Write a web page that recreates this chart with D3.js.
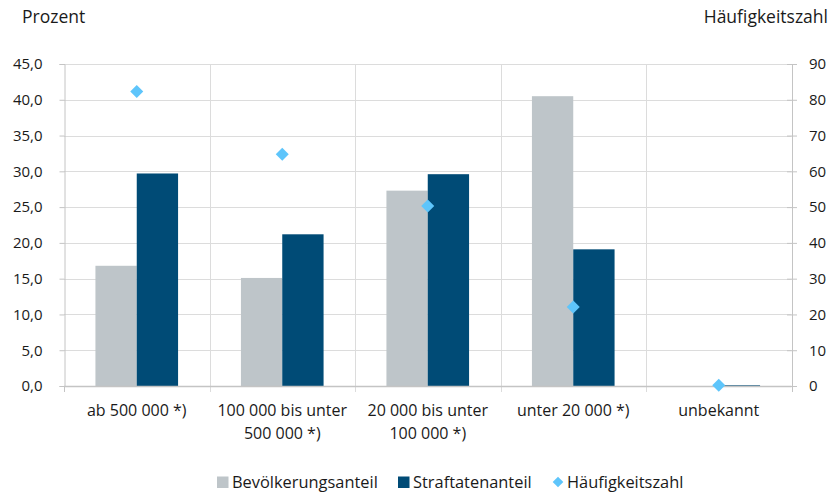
<!DOCTYPE html>
<html>
<head>
<meta charset="utf-8">
<script src="https://cdn.jsdelivr.net/npm/d3@7"></script>
<style>
  html, body { margin: 0; padding: 0; background: #fff; }
  svg { display: block; font-family: "Open Sans", sans-serif; }
  text { fill: #1a1a1a; }
</style>
</head>
<body>
<svg id="chart" width="831" height="493"></svg>
<script>
// Gemeindegrößenklassen
const categories = [
  ["ab 500 000 *)"],
  ["100 000 bis unter", "500 000 *)"],
  ["20 000 bis unter", "100 000 *)"],
  ["unter 20 000 *)"],
  ["unbekannt"]
];
const bevoelkerungsanteil = [16.8, 15.1, 27.3, 40.5, 0.0];
const straftatenanteil    = [29.7, 21.2, 29.6, 19.1, 0.1];
const haeufigkeitszahl    = [82.3, 64.8, 50.3, 22.1, 0.2];
const leftTicks  = [0, 5, 10, 15, 20, 25, 30, 35, 40, 45];
const rightTicks = [0, 10, 20, 30, 40, 50, 60, 70, 80, 90];
const seriesNames = ["Bevölkerungsanteil", "Straftatenanteil", "Häufigkeitszahl"];

const colGrey = "#bec5c9", colDark = "#004b76", colLight = "#5ec5fb";
const gridCol = "#dcdcdc", axisCol = "#c4c4c4";

const svg = d3.select("#chart");
const m = { left: 64, right: 831 - 791.5, top: 64, bottom: 493 - 386 };
const W = 831 - m.left - m.right, H = 493 - m.top - m.bottom;

const x = d3.scaleBand().domain(d3.range(categories.length)).range([m.left, m.left + W]);
const yL = d3.scaleLinear().domain([0, 45]).range([m.top + H, m.top]);
const yR = d3.scaleLinear().domain([0, 90]).range([m.top + H, m.top]);

// horizontal gridlines
svg.append("g").selectAll("line").data(leftTicks.slice(1)).join("line")
  .attr("x1", m.left).attr("x2", m.left + W)
  .attr("y1", d => Math.round(yL(d)) + 0.5).attr("y2", d => Math.round(yL(d)) + 0.5)
  .attr("stroke", gridCol).attr("stroke-width", 1);

// vertical gridlines at category boundaries
svg.append("g").selectAll("line").data(d3.range(1, categories.length)).join("line")
  .attr("x1", d => Math.round(x(d)) + 0.5).attr("x2", d => Math.round(x(d)) + 0.5)
  .attr("y1", m.top).attr("y2", m.top + H + 6)
  .attr("stroke", gridCol).attr("stroke-width", 1);

// bars
const barW = x.bandwidth() * 0.284;
const gBars = svg.append("g");
[bevoelkerungsanteil, straftatenanteil].forEach((vals, s) => {
  gBars.selectAll(null).data(vals).join("rect")
    .attr("x", (d, i) => x(i) + x.bandwidth() / 2 + (s - 1) * barW)
    .attr("width", barW)
    .attr("y", d => yL(d))
    .attr("height", d => yL(0) - yL(d))
    .attr("fill", s === 0 ? colGrey : colDark);
});

// left axis
const axL = svg.append("g").attr("transform", `translate(${m.left + 0.5},0)`)
  .call(d3.axisLeft(yL).tickValues(leftTicks).tickSize(5).tickPadding(17)
    .tickFormat(d => d3.format(".1f")(d).replace(".", ",")));
axL.select(".domain").attr("stroke", axisCol);
axL.selectAll(".tick line").attr("stroke", axisCol);
axL.selectAll("text").attr("font-size", 15).attr("font-family", "Open Sans").attr("fill", "#1a1a1a");

// right axis
const axR = svg.append("g").attr("transform", `translate(${m.left + W + 0.5},0)`)
  .call(d3.axisRight(yR).tickValues(rightTicks).tickSize(5).tickPadding(12));
axR.select(".domain").attr("stroke", axisCol);
axR.selectAll(".tick line").attr("stroke", axisCol).attr("x1", -5);
axR.selectAll("text").attr("font-size", 15).attr("font-family", "Open Sans").attr("fill", "#1a1a1a");

// baseline and outer category ticks
svg.append("line").attr("x1", m.left).attr("x2", m.left + W)
  .attr("y1", Math.round(yL(0)) + 0.5).attr("y2", Math.round(yL(0)) + 0.5)
  .attr("stroke", axisCol).attr("stroke-width", 1.5);
svg.append("g").selectAll("line").data([m.left, m.left + W]).join("line")
  .attr("x1", d => Math.round(d) + 0.5).attr("x2", d => Math.round(d) + 0.5)
  .attr("y1", yL(0)).attr("y2", yL(0) + 6).attr("stroke", axisCol);

// diamonds (right axis)
const sym = d3.symbol().type(d3.symbolDiamond2).size(108);
svg.append("g").selectAll("path").data(haeufigkeitszahl).join("path")
  .attr("d", sym)
  .attr("transform", (d, i) => `translate(${x(i) + x.bandwidth() / 2},${yR(d)})`)
  .attr("fill", colLight);

// category labels
const gX = svg.append("g");
categories.forEach((lines, i) => {
  const cx = x(i) + x.bandwidth() / 2;
  const t = gX.append("text").attr("text-anchor", "middle")
    .attr("x", cx).attr("y", 416).attr("font-size", 16);
  lines.forEach((ln, k) => t.append("tspan").attr("x", cx)
    .attr("dy", k === 0 ? 0 : 22.5).text(ln));
});

// axis titles
svg.append("text").attr("x", 22).attr("y", 23).attr("font-size", 17.5).text("Prozent");
svg.append("text").attr("x", 828).attr("y", 23).attr("font-size", 17.5)
  .attr("text-anchor", "end").text("Häufigkeitszahl");

// legend
const leg = svg.append("g").attr("transform", "translate(0,488)");
const legX = [217, 398, 552];
seriesNames.forEach((name, s) => {
  if (s < 2) {
    leg.append("rect").attr("x", legX[s]).attr("y", -11.5).attr("width", 11.5).attr("height", 11.5)
      .attr("fill", s === 0 ? colGrey : colDark);
  } else {
    leg.append("path").attr("d", d3.symbol().type(d3.symbolDiamond2).size(72))
      .attr("transform", `translate(${legX[s] + 6},-6)`).attr("fill", colLight);
  }
  leg.append("text").attr("x", legX[s] + 15).attr("y", 0)
    .attr("font-size", 16.4).text(name);
});
</script>
</body>
</html>
